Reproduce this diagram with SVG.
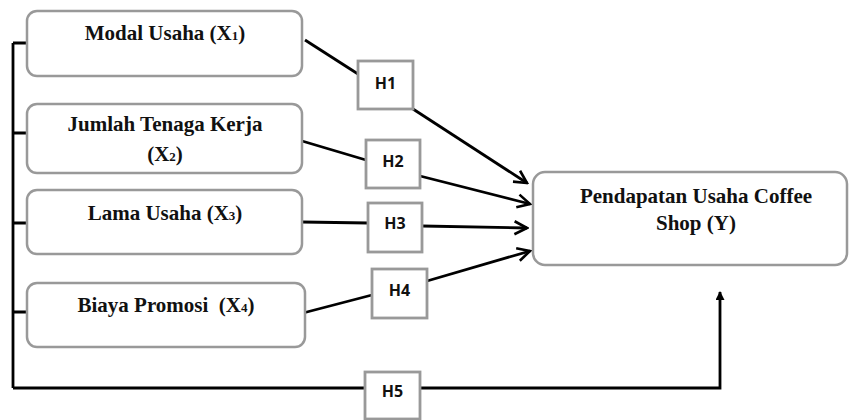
<svg xmlns="http://www.w3.org/2000/svg" width="849" height="420" viewBox="0 0 849 420">
<style>
.box{fill:#fff;stroke:#999;stroke-width:2.5}
.hb{fill:#fff;stroke:#999;stroke-width:2.8}
.t{font-family:"Liberation Serif","Times New Roman",serif;font-weight:bold;font-size:21px;fill:#111;text-anchor:middle}
.s{font-size:13px}
.h{font-family:"Open Sans","DejaVu Sans",sans-serif;font-weight:bold;font-size:16px;fill:#111;text-anchor:middle}
.ln{fill:none;stroke:#000;stroke-width:2.8}
</style>
<defs>
<marker id="open" viewBox="0 0 16 16" refX="14" refY="8" markerWidth="16" markerHeight="16" markerUnits="userSpaceOnUse" orient="auto">
<path d="M1.5,1.5 L14,8 L1.5,14.5" fill="none" stroke="#000" stroke-width="2.6"/>
</marker>
<marker id="solid" viewBox="0 0 10 10" refX="9" refY="5" markerWidth="10" markerHeight="9" markerUnits="userSpaceOnUse" orient="auto">
<path d="M0,0 L10,5 L0,10 Z" fill="#000"/>
</marker>
</defs>
<rect width="849" height="420" fill="#fff"/>
<g id="connectors">
<path class="ln" d="M13,43 V388 M13,43 H27 M13,133 H27 M13,223 H27 M13,312 H27"/>
<path class="ln" d="M305,40 L358,74"/>
<path class="ln" d="M413,109 L527,183" marker-end="url(#open)"/>
<path class="ln" d="M302,141 L366,160"/>
<path class="ln" d="M420,176 L530,204" marker-end="url(#open)"/>
<path class="ln" d="M302,222 L368,223"/>
<path class="ln" d="M422,226 L527,228" marker-end="url(#open)"/>
<path class="ln" d="M303,313 L372,295"/>
<path class="ln" d="M427,281 L530,251" marker-end="url(#open)"/>
<path class="ln" d="M13,388 H365"/>
<path class="ln" d="M420,388 H720 V292" marker-end="url(#solid)"/>
</g>
<g id="x1">
<rect class="box" x="27" y="11" width="275" height="65" rx="10"/>
<text class="t" x="165" y="40">Modal Usaha (X<tspan class="s">1</tspan>)</text>
</g>
<g id="x2">
<rect class="box" x="27" y="104" width="275" height="69" rx="10"/>
<text class="t" x="165" y="131">Jumlah Tenaga Kerja</text>
<text class="t" x="165" y="161">(X<tspan class="s">2</tspan>)</text>
</g>
<g id="x3">
<rect class="box" x="27" y="190" width="275" height="64" rx="10"/>
<text class="t" x="165" y="220">Lama Usaha (X<tspan class="s">3</tspan>)</text>
</g>
<g id="x4">
<rect class="box" x="27" y="283" width="278" height="64" rx="10"/>
<text class="t" x="166" y="312" xml:space="preserve">Biaya Promosi  (X<tspan class="s">4</tspan>)</text>
</g>
<g id="y">
<rect class="box" x="533" y="172" width="314" height="93" rx="12"/>
<text class="t" x="696" y="203">Pendapatan Usaha Coffee</text>
<text class="t" x="696" y="230">Shop (Y)</text>
</g>
<g id="h1"><rect class="hb" x="358" y="61" width="55" height="48"/><text class="h" x="385.5" y="89">H1</text></g>
<g id="h2"><rect class="hb" x="366" y="140" width="54" height="48"/><text class="h" x="393" y="167">H2</text></g>
<g id="h3"><rect class="hb" x="368" y="203" width="54" height="49"/><text class="h" x="395" y="229">H3</text></g>
<g id="h4"><rect class="hb" x="372" y="269" width="55" height="49"/><text class="h" x="399.5" y="296">H4</text></g>
<g id="h5"><rect class="hb" x="365" y="372" width="55" height="47"/><text class="h" x="392.5" y="397">H5</text></g>
</svg>
